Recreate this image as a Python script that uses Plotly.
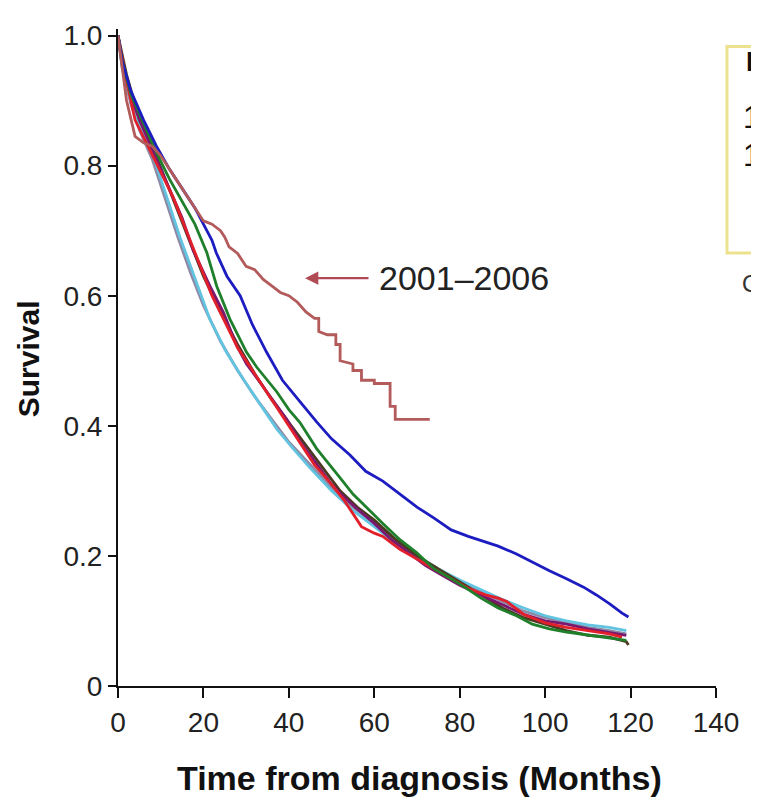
import plotly.graph_objects as go

# ---- data ----
months_0106 = [0, 1, 2, 4, 6, 8, 10, 12, 14, 16, 18, 20, 22, 24, 25, 26, 28, 30, 32, 34, 36, 38, 40, 42, 44,
               46, 47, 47, 49, 51, 51, 52, 52, 55, 55, 57, 57, 60, 60, 63, 63.7, 63.7, 64.9, 64.9, 73]
surv_0106 = [1, 0.95, 0.9, 0.845, 0.835, 0.83, 0.815, 0.795, 0.775, 0.755, 0.735, 0.715, 0.71, 0.70, 0.69,
             0.675, 0.665, 0.645, 0.64, 0.625, 0.615, 0.605, 0.60, 0.59, 0.575, 0.565, 0.565, 0.545, 0.54,
             0.54, 0.525, 0.525, 0.50, 0.495, 0.485, 0.485, 0.47, 0.47, 0.465, 0.465, 0.465, 0.43, 0.43,
             0.41, 0.41]

months_blue = [0, 1, 3, 6, 9, 12, 15, 18, 20, 22, 23, 25.5, 28.6, 31.5, 34.8, 38.5, 42.6, 46.5, 50, 54.3, 58,
               62, 66, 70, 74, 78, 82, 85.5, 89, 93.3, 97, 101, 105, 109, 112, 115.2, 118, 119.5]
surv_blue = [1, 0.96, 0.915, 0.87, 0.83, 0.795, 0.765, 0.735, 0.71, 0.685, 0.666, 0.63, 0.6, 0.555, 0.513, 0.47,
             0.437, 0.406, 0.38, 0.355, 0.33, 0.315, 0.295, 0.275, 0.258, 0.24, 0.23, 0.223, 0.215, 0.203, 0.19,
             0.177, 0.165, 0.152, 0.14, 0.126, 0.112, 0.106]

months_green = [0, 1, 3, 6, 9, 12, 15, 18, 20.8, 23.1, 26.2, 30.1, 32.5, 37.2, 40, 42.6, 46.5, 49, 52, 55, 58.2,
                62, 66, 69.9, 74, 78, 81.6, 85, 89, 93.3, 97, 101, 105, 110, 115, 119]
surv_green = [1, 0.96, 0.91, 0.865, 0.82, 0.78, 0.745, 0.71, 0.666, 0.615, 0.564, 0.513, 0.49, 0.452, 0.425,
              0.405, 0.365, 0.345, 0.32, 0.295, 0.274, 0.25, 0.225, 0.205, 0.18, 0.165, 0.15, 0.135, 0.12, 0.108,
              0.095, 0.088, 0.083, 0.078, 0.074, 0.07]

months_purple = [0, 1, 3, 6, 9, 12, 15, 17.6, 21.5, 24.7, 27.8, 30.1, 34.8, 39.5, 42.6, 46, 50, 53, 56, 60, 64,
                 68, 72, 76, 80, 85, 90, 95, 100, 105, 110, 115, 119]
surv_purple = [1, 0.955, 0.905, 0.855, 0.81, 0.765, 0.72, 0.67, 0.615, 0.574, 0.523, 0.495, 0.452, 0.41, 0.376,
               0.345, 0.31, 0.29, 0.272, 0.25, 0.225, 0.205, 0.185, 0.17, 0.155, 0.14, 0.125, 0.11, 0.1, 0.095,
               0.088, 0.083, 0.078]

months_red = [0, 2, 4, 7, 10, 13, 16, 19, 22, 25, 28, 31, 35, 39, 43, 46, 50, 53, 55, 57, 58.5, 60, 62, 66, 70,
              74, 78, 82, 86, 89, 91, 95, 100, 105, 110, 115, 118]
surv_red = [1, 0.93, 0.87, 0.83, 0.79, 0.75, 0.7, 0.65, 0.6, 0.56, 0.52, 0.49, 0.45, 0.41, 0.37, 0.34, 0.31,
            0.285, 0.265, 0.245, 0.24, 0.235, 0.23, 0.21, 0.195, 0.18, 0.165, 0.15, 0.14, 0.135, 0.13, 0.11,
            0.097, 0.09, 0.085, 0.08, 0.075]

months_cyan = [0, 1, 3, 5, 8, 11, 14.5, 18.4, 21.5, 25.4, 29.3, 34, 37.2, 41, 45, 50, 55, 60, 65, 70, 75, 80,
               85, 90, 95, 100, 105, 110, 115, 119]
surv_cyan = [1, 0.95, 0.9, 0.86, 0.82, 0.76, 0.69, 0.62, 0.564, 0.513, 0.472, 0.426, 0.395, 0.365, 0.335, 0.3,
             0.27, 0.245, 0.22, 0.2, 0.18, 0.163, 0.148, 0.133, 0.12, 0.108, 0.1, 0.094, 0.09, 0.085]

months_grey = [0, 1, 3, 5, 8, 11, 14, 17, 20, 24, 28, 32, 36, 40, 45, 50, 55, 60, 65, 70, 75, 80, 85, 90, 95,
               100, 105, 110, 115, 119]
surv_grey = [1, 0.95, 0.895, 0.855, 0.81, 0.75, 0.69, 0.635, 0.585, 0.53, 0.485, 0.445, 0.41, 0.375, 0.34,
             0.305, 0.275, 0.25, 0.225, 0.2, 0.18, 0.16, 0.145, 0.13, 0.115, 0.105, 0.097, 0.09, 0.085, 0.08]

months_dark = [0, 2, 5, 8, 11, 14, 17, 20, 24, 28, 32, 36, 40, 44, 48, 52, 56, 60, 65, 70, 75, 80, 85, 90, 95,
               100, 105, 110, 115, 119, 119.5]
surv_dark = [1, 0.94, 0.87, 0.83, 0.78, 0.73, 0.68, 0.63, 0.575, 0.525, 0.48, 0.44, 0.405, 0.37, 0.335, 0.3,
             0.275, 0.255, 0.225, 0.2, 0.18, 0.16, 0.14, 0.12, 0.105, 0.095, 0.085, 0.078, 0.075, 0.068, 0.063]

x_ticks = [0, 20, 40, 60, 80, 100, 120, 140]
y_ticks = [0, 0.2, 0.4, 0.6, 0.8, 1.0]
y_tick_text = ["0", "0.2", "0.4", "0.6", "0.8", "1.0"]
label_period = "2001–2006"

FONT = "Liberation Sans, Arial, Helvetica, sans-serif"

# page has an 8px body margin: figure is drawn 8px right/down of the window origin
OFF = 8
W, H = 759 - OFF, 801 - OFF
PL, PR, PT, PB = 118, 716, 31, 686          # plot-area pixel edges in the reference (y=1.0 at PT, y=0 at PB)
YTOP = 1.01
pt_top = PB - (PB - PT) * YTOP               # pixel of y=YTOP
PH = PB - pt_top


def px(xr):
    return (xr - PL) / (PR - PL)


def py(yr):
    return (PB - yr) / PH


fig = go.Figure()

series = [
    (months_grey, surv_grey, "#8e8aa6"),
    (months_cyan, surv_cyan, "#62c4e0"),
    (months_dark, surv_dark, "#4a3a20"),
    (months_purple, surv_purple, "#7a1870"),
    (months_red, surv_red, "#e2202c"),
    (months_green, surv_green, "#1f7f2a"),
    (months_blue, surv_blue, "#1c1cc0"),
    (months_0106, surv_0106, "#b35a5a"),
]
for xs, ys, col in series:
    fig.add_trace(go.Scatter(x=xs, y=ys, mode="lines", line=dict(color=col, width=2.8),
                             showlegend=False, hoverinfo="skip"))

# arrow + label for 2001-2006
fig.add_annotation(x=43.8, y=0.627, ax=59, ay=0.627, xref="x", yref="y", axref="x", ayref="y",
                   showarrow=True, arrowhead=2, arrowsize=1.1, arrowwidth=2.4, arrowcolor="#b04a55", text="")
fig.add_annotation(x=60.6, y=0.627, xref="x", yref="y", text=label_period, showarrow=False,
                   xanchor="left", yanchor="middle", font=dict(family=FONT, size=34, color="#222"))

# partially visible legend box at right
fig.add_shape(type="rect", xref="paper", yref="paper", x0=px(727), x1=1.3, y0=py(250), y1=py(42),
              line=dict(color="#ece28e", width=3), fillcolor="rgba(0,0,0,0)")
fig.add_annotation(xref="paper", yref="paper", x=px(744), y=py(58),
                   text="<b>Diagnosis year</b>", showarrow=False, xanchor="left", yanchor="middle",
                   font=dict(family=FONT, size=27, color="#111"))
fig.add_annotation(xref="paper", yref="paper", x=px(741), y=py(114),
                   text="1976–1985", showarrow=False, xanchor="left", yanchor="middle",
                   font=dict(family=FONT, size=31, color="#111"))
fig.add_annotation(xref="paper", yref="paper", x=px(741), y=py(152),
                   text="1986–1995", showarrow=False, xanchor="left", yanchor="middle",
                   font=dict(family=FONT, size=31, color="#111"))
fig.add_annotation(xref="paper", yref="paper", x=px(740), y=py(281),
                   text="Overall", showarrow=False, xanchor="left", yanchor="middle",
                   font=dict(family=FONT, size=24, color="#333"))

# axis titles
fig.add_annotation(xref="paper", yref="paper", x=px(419), y=py(779),
                   text="<b>Time from diagnosis (Months)</b>", showarrow=False, xanchor="center",
                   yanchor="middle", font=dict(family=FONT, size=34, color="#111"))
fig.add_annotation(xref="paper", yref="paper", x=px(28), y=py(357),
                   text="<b>Survival</b>", showarrow=False, xanchor="center", textangle=-90,
                   yanchor="middle", font=dict(family=FONT, size=30, color="#111"))

fig.update_layout(
    width=W, height=H,
    margin=dict(l=PL - OFF, r=W - (PR - OFF), t=pt_top - OFF, b=H - (PB - OFF), pad=0),
    paper_bgcolor="white", plot_bgcolor="white",
    font=dict(family=FONT, size=20, color="#222"),
    xaxis=dict(range=[0, 140], tickvals=x_ticks, ticktext=[str(v) for v in x_ticks],
               showline=True, linecolor="#111", linewidth=2, ticks="outside", ticklen=10, tickwidth=2,
               tickcolor="#111", showgrid=False, zeroline=False, tickfont=dict(size=28, color="#222")),
    yaxis=dict(range=[0, YTOP], tickvals=y_ticks, ticktext=y_tick_text,
               showline=True, linecolor="#111", linewidth=2, ticks="outside", ticklen=8, tickwidth=2,
               tickcolor="#111", showgrid=False, zeroline=False, tickfont=dict(size=28, color="#222")),
)

fig.write_html("out.html")
